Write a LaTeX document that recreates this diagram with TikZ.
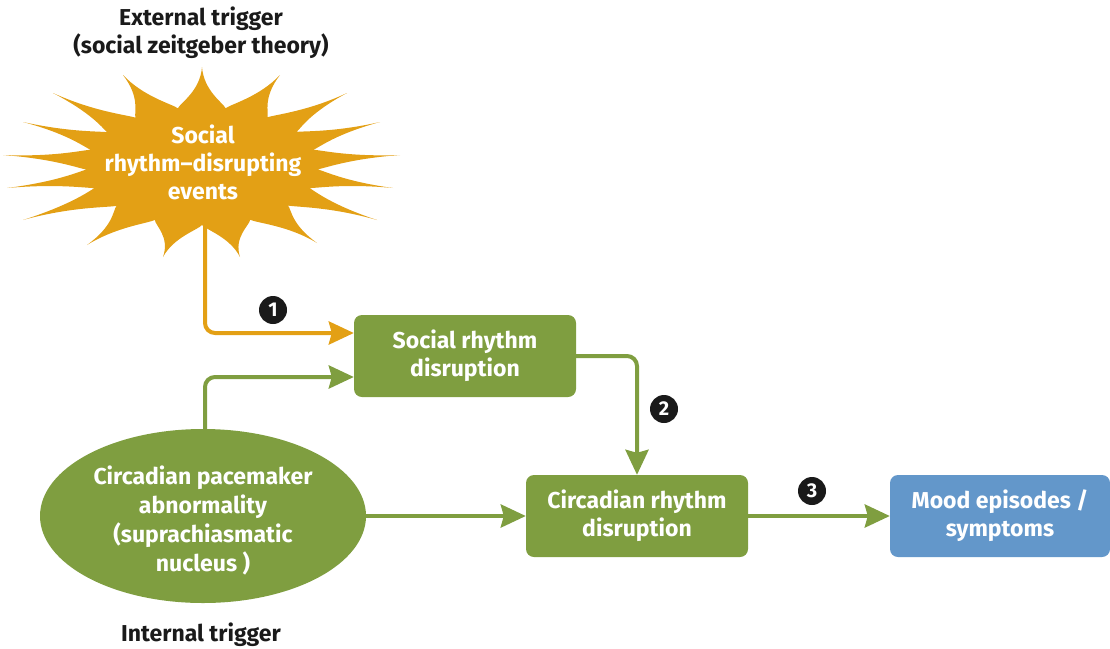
\documentclass[tikz,border=0pt]{standalone}
\usepackage{fontspec}
\setmainfont{Fira Sans}
\usetikzlibrary{arrows.meta,calc,shapes.geometric}
\definecolor{sunorange}{HTML}{E3A015}
\definecolor{leaf}{HTML}{7F9E40}
\definecolor{sky}{HTML}{6397CA}
\definecolor{badge}{HTML}{1A1A1A}
\begin{document}
\begin{tikzpicture}[x=1pt,y=1pt,
 lbl/.style={font=\fontsize{23}{28}\selectfont\bfseries, align=center, text=white},
 box/.style={rounded corners=8pt, minimum width=222pt, minimum height=82pt, lbl, inner sep=0pt},
 conn/.style={line width=4pt, rounded corners=10pt, -{Stealth[length=25pt,width=23pt,inset=3pt]}},
 num/.style={circle, fill=badge, text=white, minimum size=28pt, inner sep=0pt, font=\fontsize{20}{20}\selectfont\bfseries},
 title/.style={font=\fontsize{23}{28}\selectfont\bfseries, align=center, text=badge}]
\useasboundingbox (0,0) rectangle (1110,-648);
% starburst
\begin{scope}[shift={(202,-166)}]
\fill[sunorange] (102:116pt and 59pt)
 \foreach \a/\ta/\tx/\ty/\b in {102/90/0/99/78.25, 78.25/66.5/78/91/55.65, 55.65/44.8/145/73/35.3, 35.3/25.8/178/44/16,
   16/6.2/198/11/-3.3, -3.3/-12.8/191/-22/-22, -22/-31.3/175/-54/-42.1, -42.1/-52.9/115/-77/-65.5,
   -65.5/-78/38/-91/-90, -90/-102/-39/-91/-114, -114/-126/-115/-79/-137.5, -137.5/-149/-179/-54/-158,
   -158/-167/-195/-22/-176.5, -176.5/-186/-199/11/-196, -196/-206/-179/44/-215, -215/-224/-149/73/-235, -235/-246/-79/91/-258}
 { .. controls ({\a-2}:125pt and 64pt) and ($({\ta+1.5}:116pt and 59pt)!0.4!(\tx,\ty)$) .. (\tx,\ty)
   .. controls ($({\ta-1.5}:116pt and 59pt)!0.4!(\tx,\ty)$) and ({\b+2}:125pt and 64pt) .. (\b:116pt and 59pt) } -- cycle;
\end{scope}
\node[lbl] (sun) at (203,-162) {Social\\rhythm–disrupting\\events};
\coordinate (stem) at (205,-222);
\node[title] (ext) at (201,-33) {External trigger\\(social zeitgeber theory)};
\node[box, fill=leaf] (srd) at (465,-356) {Social rhythm\\disruption};
\node[box, fill=leaf] (crd) at (637,-516) {Circadian rhythm\\disruption};
\node[box, fill=sky, minimum width=220pt] (mood) at (1000,-516) {Mood episodes /\\symptoms};
\node[ellipse, fill=leaf, minimum width=326pt, minimum height=174pt, inner sep=0pt] (cpa) at (203,-516) {};
\node[lbl, font=\fontsize{23}{29}\selectfont\bfseries] (cpatext) at (203,-520)
  {Circadian pacemaker\\abnormality\\(suprachiasmatic\\nucleus )};
\node[title] (int) at (201,-635) {Internal trigger};
\node[num] (b1) at (273,-310) {1};
\node[num] (b2) at (664,-409) {2};
\node[num] (b3) at (812,-491) {3};
\draw[conn, sunorange] (stem) |- ([yshift=23pt]srd.west);
\draw[conn, leaf] ([xshift=2pt]cpa.north) |- ([yshift=-21pt]srd.west);
\draw[conn, leaf] (srd.east) -| (crd.north);
\draw[conn, leaf] (cpa.east) -- (crd.west);
\draw[conn, leaf] (crd.east) -- (mood.west);
\end{tikzpicture}
\end{document}
